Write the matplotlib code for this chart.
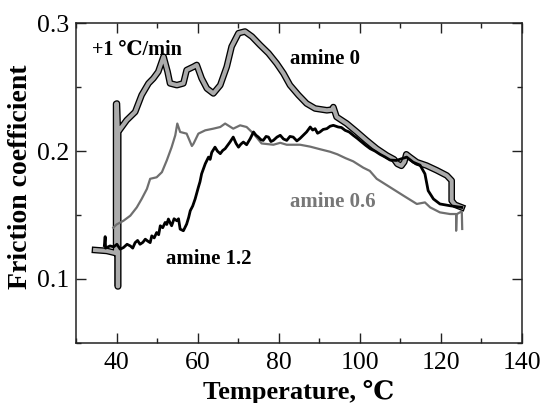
import matplotlib
matplotlib.use("Agg")
import matplotlib.pyplot as plt
from matplotlib.ticker import MultipleLocator

# ---- data ----
temp_a0 = [34.7, 37.6, 39.3, 39.9, 39.9, 40.1, 40.3, 40.3, 40.4, 40.4, 42.5, 44.6, 46.2, 47.9,
           49.1, 50.3, 51.6, 52.6, 53.2, 54.9, 56.5, 57.3, 59.0, 59.8, 61.0, 62.3, 63.9, 65.6,
           67.2, 68.4, 70.1, 71.7, 73.4, 75.4, 77.5, 79.5, 81.2, 82.8, 84.9, 86.9, 89.0, 91.9,
           93.2, 93.5, 94.3, 96.8, 99.3, 101.7, 104.2, 106.7, 108.5, 109.3, 110.3, 111.0, 111.5,
           112.3, 114.1, 116.5, 119.0, 121.5, 122.7, 122.7, 123.5, 125.2]
mu_a0 = [0.1225, 0.1218, 0.1205, 0.120, 0.237, 0.2373, 0.218, 0.094, 0.094, 0.2150, 0.2242,
         0.2307, 0.2439, 0.2531, 0.2570, 0.2622, 0.2740, 0.2622, 0.2531, 0.2517, 0.2531, 0.2635,
         0.2661, 0.2675, 0.2570, 0.2491, 0.2452, 0.2517, 0.2661, 0.2819, 0.2924, 0.2937, 0.2898,
         0.2832, 0.2767, 0.2688, 0.2609, 0.2517, 0.2439, 0.2373, 0.2334, 0.2320, 0.2325, 0.2345,
         0.2268, 0.2216, 0.2150, 0.2084, 0.2019, 0.1966, 0.1935, 0.1900, 0.1885, 0.1915, 0.1975,
         0.1955, 0.1913, 0.1887, 0.1850, 0.1809, 0.1769, 0.1612, 0.1580, 0.1559]

temp_a06 = [39.2, 40.0, 41.7, 43.4, 45.0, 46.2, 47.5, 48.3, 49.9, 51.2, 52.4, 53.6, 54.5, 55.0,
            55.7, 57.3, 58.6, 59.0, 60.2, 61.9, 63.9, 65.6, 66.8, 68.8, 70.5, 72.1, 73.8, 75.8,
            78.7, 80.4, 82.0, 85.3, 87.8, 90.2, 92.7, 94.5, 96.5, 98.4, 100.9, 102.5, 104.2,
            107.5, 110.8, 114.1, 116.1, 117.4, 119.8, 122.3, 123.5, 123.8, 123.8, 123.9, 125.0,
            125.2, 125.3]
mu_a06 = [0.140, 0.1425, 0.1454, 0.1494, 0.1559, 0.1625, 0.1704, 0.1783, 0.1795, 0.1835, 0.1927,
          0.2031, 0.2124, 0.2216, 0.2150, 0.2137, 0.2040, 0.2058, 0.2137, 0.2163, 0.2176, 0.2189,
          0.2216, 0.2176, 0.2202, 0.2189, 0.2137, 0.2060, 0.2050, 0.2065, 0.2050, 0.2050, 0.2035,
          0.2015, 0.1995, 0.1975, 0.1945, 0.1920, 0.1870, 0.1845, 0.1783, 0.1717, 0.1651, 0.1586,
          0.1598, 0.1559, 0.1520, 0.1507, 0.1507, 0.1507, 0.1376, 0.1505, 0.1525, 0.1525, 0.1390]

temp_a12 = [37.0, 37.2, 37.3, 38.4, 39.3, 40.1, 40.9, 41.7, 42.6, 43.4, 44.0, 44.6, 45.2, 45.8,
            46.5, 47.1, 47.7, 48.3, 48.7, 49.3, 49.9, 50.4, 50.8, 51.4, 52.0, 52.4, 52.8, 53.2,
            53.6, 54.2, 54.9, 55.3, 55.7, 56.5, 57.3, 57.8, 58.2, 58.8, 59.4, 60.2, 60.6, 61.0,
            61.9, 62.7, 63.1, 63.5, 64.3, 64.9, 65.6, 66.2, 66.8, 67.4, 68.0, 68.8, 69.5, 70.1,
            70.7, 71.3, 72.1, 73.0, 73.8, 74.4, 75.0, 75.6, 76.2, 76.9, 77.5, 78.1, 78.7, 79.6,
            80.4, 81.2, 82.0, 82.8, 83.6, 84.5, 85.3, 86.1, 86.9, 87.8, 88.4, 89.0, 89.6, 90.2,
            91.0, 91.9, 92.7, 93.5, 94.7, 95.5, 96.4, 97.4, 98.4, 99.4, 100.5, 101.5, 102.6, 103.8,
            105.0, 106.2, 107.5, 109.1, 110.3, 111.6, 113.2, 114.9, 116.1, 116.9, 118.2, 119.8,
            122.3, 125.2]
mu_a12 = [0.126, 0.133, 0.124, 0.1257, 0.125, 0.127, 0.1232, 0.1244, 0.1270, 0.1257, 0.1240,
          0.1283, 0.1300, 0.1270, 0.1285, 0.1310, 0.1295, 0.1283, 0.1336, 0.1320, 0.1362, 0.1345,
          0.1415, 0.1400, 0.1441, 0.1425, 0.1468, 0.1440, 0.1415, 0.1470, 0.1454, 0.1470, 0.1389,
          0.1376, 0.1428, 0.1480, 0.1533, 0.1570, 0.1625, 0.1717, 0.1760, 0.1822, 0.1901, 0.1953,
          0.1935, 0.1990, 0.2031, 0.2000, 0.1980, 0.2005, 0.2019, 0.2045, 0.2071, 0.2110, 0.2060,
          0.2031, 0.2055, 0.2071, 0.2050, 0.2098, 0.2150, 0.2125, 0.2110, 0.2090, 0.2084, 0.2115,
          0.2110, 0.2075, 0.2084, 0.2110, 0.2124, 0.2095, 0.2084, 0.2115, 0.2110, 0.2080, 0.2100,
          0.2125, 0.2150, 0.2189, 0.2165, 0.2176, 0.2140, 0.2150, 0.2170, 0.2176, 0.2195, 0.2202,
          0.2189, 0.2185, 0.2163, 0.2150, 0.2124, 0.2100, 0.2071, 0.2045, 0.2019, 0.2000, 0.1975,
          0.1955, 0.1930, 0.1927, 0.1940, 0.1953, 0.1913, 0.1890, 0.1822, 0.1690, 0.1625, 0.1586,
          0.1572, 0.1559]

series_labels = ["amine 0", "amine 0.6", "amine 1.2"]
rate_label = "+1 \u2103/min"
x_label = "Temperature, \u2103"
y_label = "Friction coefficient"

FONT = ["Liberation Serif", "DejaVu Serif"]
plt.rcParams["font.family"] = FONT

fig = plt.figure(figsize=(5.42, 4.03), dpi=100)
ax = fig.add_axes([0.1402, 0.150, 0.8225, 0.7917])

# amine 0 : gray band with black outline
ax.plot(temp_a0, mu_a0, color="black", lw=4.8, solid_joinstyle="round", zorder=2)
ax.plot(temp_a0, mu_a0, color="#ababab", lw=2.9, solid_joinstyle="round", zorder=3)
# amine 0.6 : gray thin
ax.plot(temp_a06, mu_a06, color="#6f6f6f", lw=1.6, zorder=4)
# amine 1.2 : black
ax.plot(temp_a12, mu_a12, color="black", lw=2.0, zorder=5)

ax.set_xlim(30, 140)
ax.set_ylim(0.05, 0.3)
ax.xaxis.set_major_locator(MultipleLocator(20))
ax.xaxis.set_minor_locator(MultipleLocator(10))
ax.yaxis.set_minor_locator(MultipleLocator(0.05))
ax.set_yticks([0.1, 0.2, 0.3])
ax.set_yticklabels(["0.1", "0.2", "0.3"])

ax.tick_params(which="both", direction="in", top=True, right=True, width=1.0, colors="#222222")
ax.tick_params(which="major", length=7.5, labelsize=18.5, labelcolor="black")
ax.tick_params(axis="y", which="major", pad=4.5)
ax.tick_params(axis="x", which="major", pad=7)
ax.tick_params(which="minor", length=3.8)
for s in ax.spines.values():
    s.set_linewidth(1.1)
    s.set_color("#222222")

ax.set_xlabel(x_label, fontsize=19, fontweight="bold", labelpad=4)
ax.set_ylabel(y_label, fontsize=20, fontweight="bold")
ax.yaxis.set_label_coords(-0.097, 0.519)

ax.text(33.9, 0.2796, rate_label, fontsize=14.5, fontweight="bold", ha="left", va="center", color="black")
ax.text(82.7, 0.2725, series_labels[0], fontsize=15, fontweight="bold", ha="left", va="center", color="black")
ax.text(82.9, 0.1598, series_labels[1], fontsize=15, fontweight="bold", ha="left", va="center", color="#777777")
ax.text(52.2, 0.1152, series_labels[2], fontsize=15, fontweight="bold", ha="left", va="center", color="black")

fig.savefig("out.png", dpi=100)
